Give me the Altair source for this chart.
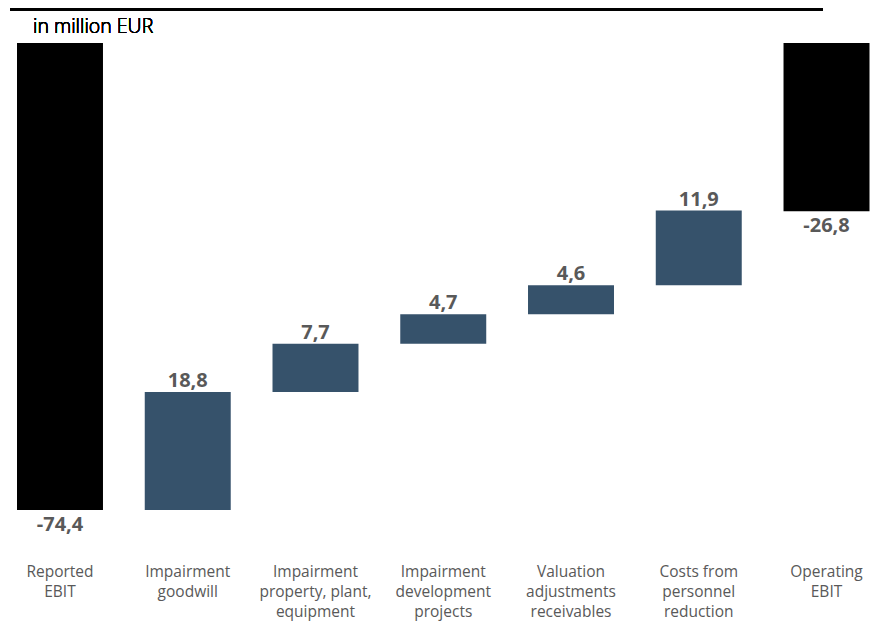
import altair as alt
import pandas as pd

categories = [
    "Reported\nEBIT",
    "Impairment\ngoodwill",
    "Impairment\nproperty, plant,\nequipment",
    "Impairment\ndevelopment\nprojects",
    "Valuation\nadjustments\nreceivables",
    "Costs from\npersonnel\nreduction",
    "Operating\nEBIT",
]
values = [-74.4, 18.8, 7.7, 4.7, 4.6, 11.9, -26.8]
kinds = ["total", "delta", "delta", "delta", "delta", "delta", "total"]

starts, ends = [], []
running = 0.0
for v, k in zip(values, kinds):
    if k == "total":
        starts.append(0.0)
        ends.append(v)
        running = v
    else:
        starts.append(running)
        running = running + v
        ends.append(running)

df = pd.DataFrame({
    "cat": categories,
    "start": starts,
    "end": ends,
    "kind": kinds,
    "label": [f"{v:.1f}".replace(".", ",") for v in values],
    "top": [max(s, e) for s, e in zip(starts, ends)],
    "bottom": [min(s, e) for s, e in zip(starts, ends)],
})

W, H = 865, 614
xs = alt.X("cat:N", sort=categories, axis=None,
           scale=alt.Scale(range=[9, 861.5], paddingInner=0.327, paddingOuter=0, round=False))
ys = alt.Scale(domain=[-92.24, 5.576], nice=False, zero=False)

base = alt.Chart(df)

bars = base.mark_bar(stroke=None).encode(
    x=xs,
    y=alt.Y("start:Q", scale=ys, axis=None),
    y2="end:Q",
    color=alt.Color("kind:N", scale=alt.Scale(domain=["total", "delta"], range=["#000000", "#36526b"]), legend=None),
)

delta_labels = base.transform_filter(alt.datum.kind == "delta").mark_text(
    font="Open Sans", fontSize=20, fontWeight="bold", color="#595959", baseline="bottom", dy=-1
).encode(x=xs, y=alt.Y("top:Q", scale=ys), text="label:N")

total_labels = base.transform_filter(alt.datum.kind == "total").mark_text(
    font="Open Sans", fontSize=20, fontWeight="bold", color="#595959", baseline="top", dy=5
).encode(x=xs, y=alt.Y("bottom:Q", scale=ys), text="label:N")

cat_labels = base.mark_text(
    font="Open Sans", fontSize=15.5, color="#595959", baseline="middle", lineBreak="\n", lineHeight=20
).encode(x=xs, y=alt.value(564), text="cat:N")

top_rule = base.mark_rule(color="#000000", strokeWidth=5).encode(
    x=alt.value(2), x2=alt.value(815), y=alt.value(0)
)

unit_text = base.mark_text(
    font="Open Sans", fontSize=19.5, fontWeight=300, color="#000000", align="left", baseline="middle", text="in million EUR"
).encode(x=alt.value(25), y=alt.value(19))

chart = alt.layer(bars, delta_labels, total_labels, cat_labels, top_rule, unit_text).properties(
    width=W, height=H, padding=0, autosize=alt.AutoSizeParams(type="none")
).configure_view(stroke=None)

chart.save("out.html", embed_options={"renderer": "svg", "actions": False})
